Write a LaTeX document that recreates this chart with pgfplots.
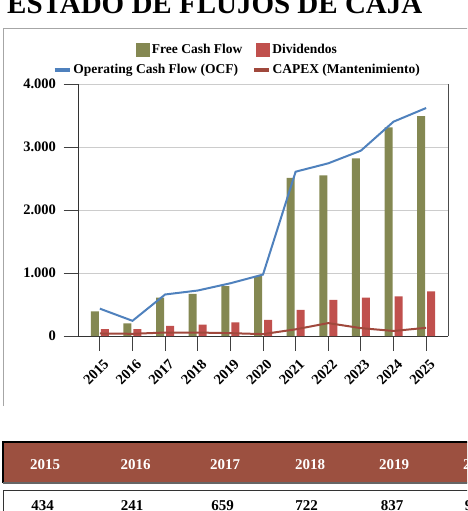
\documentclass[border=0pt]{standalone}
\usepackage{pgfplots}
\pgfplotsset{compat=1.18}
\usepackage{fontspec}
\setmainfont{Liberation Serif}

\definecolor{fcf}{RGB}{132,136,82}
\definecolor{divd}{RGB}{192,80,77}
\definecolor{ocf}{RGB}{79,129,189}
\definecolor{capex}{RGB}{160,72,60}
\definecolor{hdr}{RGB}{156,80,64}

\newcommand{\lbl}{\fontsize{13.5}{15}\selectfont\bfseries}
\newcommand{\tlbl}{\fontsize{14.5}{16}\selectfont\bfseries}

\begin{document}
\begin{tikzpicture}
\useasboundingbox (0pt,0pt) rectangle (467pt,-511pt);
\clip (0pt,0pt) rectangle (467pt,-511pt);

% title, cut at the top like the screenshot
\node[anchor=base west, inner sep=0pt, font=\fontsize{29}{30}\selectfont\bfseries]
  at (7pt,-14pt) {ESTADO DE FLUJOS DE CAJA};

% chart frame
\draw[black!35, line width=1pt] (3.5pt,-406pt) -- (3.5pt,-29pt) -- (470pt,-29pt);

% bars
\begin{axis}[
    name=ax,
    at={(78pt,-336pt)}, anchor=south west,
    scale only axis, width=370pt, height=252pt,
    xmin=-0.67, xmax=10.67, ymin=0, ymax=4000,
    ybar, bar width=8pt,
    axis lines*=left,
    axis line style={-, black!80, line width=1pt},
    tick align=outside,
    major tick length=14.5pt,
    tick style={black!75, line width=1pt},
    xtick={0,...,10},
    xticklabels={2015,2016,2017,2018,2019,2020,2021,2022,2023,2024,2025},
    xticklabel style={rotate=45, anchor=north east, yshift=-4pt},
    ytick={0,1000,2000,3000,4000},
    yticklabels={0,1.000,2.000,3.000,4.000},
    yticklabel style={xshift=-4pt},
    tick label style={font=\tlbl},
    ymajorgrids,
    major grid style={black!20, line width=0.9pt},
    legend image code/.code={\fill[#1] (0pt,-7pt) rectangle (14pt,7pt);},
    legend style={draw=none, fill=none, at={(0.431,1.135)}, anchor=center,
        legend columns=-1, font=\lbl,
        /tikz/every even column/.append style={column sep=12pt}},
]
\addplot[fill=fcf, draw=none] coordinates {
    (0,390) (1,200) (2,610) (3,670) (4,790) (5,950)
    (6,2510) (7,2550) (8,2820) (9,3310) (10,3490)
};
\addplot[fill=divd, draw=none] coordinates {
    (0,110) (1,110) (2,160) (3,180) (4,215) (5,255)
    (6,415) (7,575) (8,610) (9,630) (10,710)
};
\legend{Free Cash Flow, Dividendos}
\end{axis}
\draw[black!70, line width=1pt] (ax.south east) -- (ax.north east);

% lines
\begin{axis}[
    at={(78pt,-336pt)}, anchor=south west,
    scale only axis, width=370pt, height=252pt,
    xmin=-0.67, xmax=10.67, ymin=0, ymax=4000,
    hide axis,
    legend image code/.code={\draw[#1, line width=3.5pt] (0pt,0pt) -- (15pt,0pt);},
    legend style={draw=none, fill=none, at={(0.431,1.056)}, anchor=center,
        legend columns=-1, font=\lbl,
        /tikz/every even column/.append style={column sep=12pt}},
]
\addplot[ocf, line width=2pt] coordinates {
    (0,434) (1,241) (2,659) (3,722) (4,837) (5,975)
    (6,2608) (7,2741) (8,2942) (9,3402) (10,3619)
};
\addplot[capex, line width=2pt] coordinates {
    (0,40) (1,35) (2,55) (3,55) (4,45) (5,30)
    (6,106) (7,205) (8,125) (9,80) (10,130)
};
\legend{Operating Cash Flow (OCF), CAPEX (Mantenimiento)}
\end{axis}

% table below the chart
\fill[hdr] (3pt,-442pt) rectangle (470pt,-483pt);
\draw[black, line width=1.2pt] (3pt,-483pt) -- (3pt,-442pt) -- (470pt,-442pt);
\draw[black!60, line width=1.5pt] (3pt,-483pt) -- (470pt,-483pt);
\draw[black!80, line width=1pt] (3pt,-515pt) -- (3pt,-490pt) -- (470pt,-490pt);
\begin{scope}[every node/.style={anchor=base, inner sep=0pt,
    font=\fontsize{15}{16}\selectfont\bfseries}]
\node[white] at (45pt,-469pt) {2015};
\node[white] at (135.5pt,-469pt) {2016};
\node[white] at (225pt,-469pt) {2017};
\node[white] at (310pt,-469pt) {2018};
\node[white] at (394pt,-469pt) {2019};
\node[white] at (478pt,-469pt) {2020};
\node at (42.5pt,-510pt) {434};
\node at (132pt,-510pt) {241};
\node at (222.5pt,-510pt) {659};
\node at (306.5pt,-510pt) {722};
\node at (392pt,-510pt) {837};
\node at (476pt,-510pt) {975};
\end{scope}
\end{tikzpicture}
\end{document}
